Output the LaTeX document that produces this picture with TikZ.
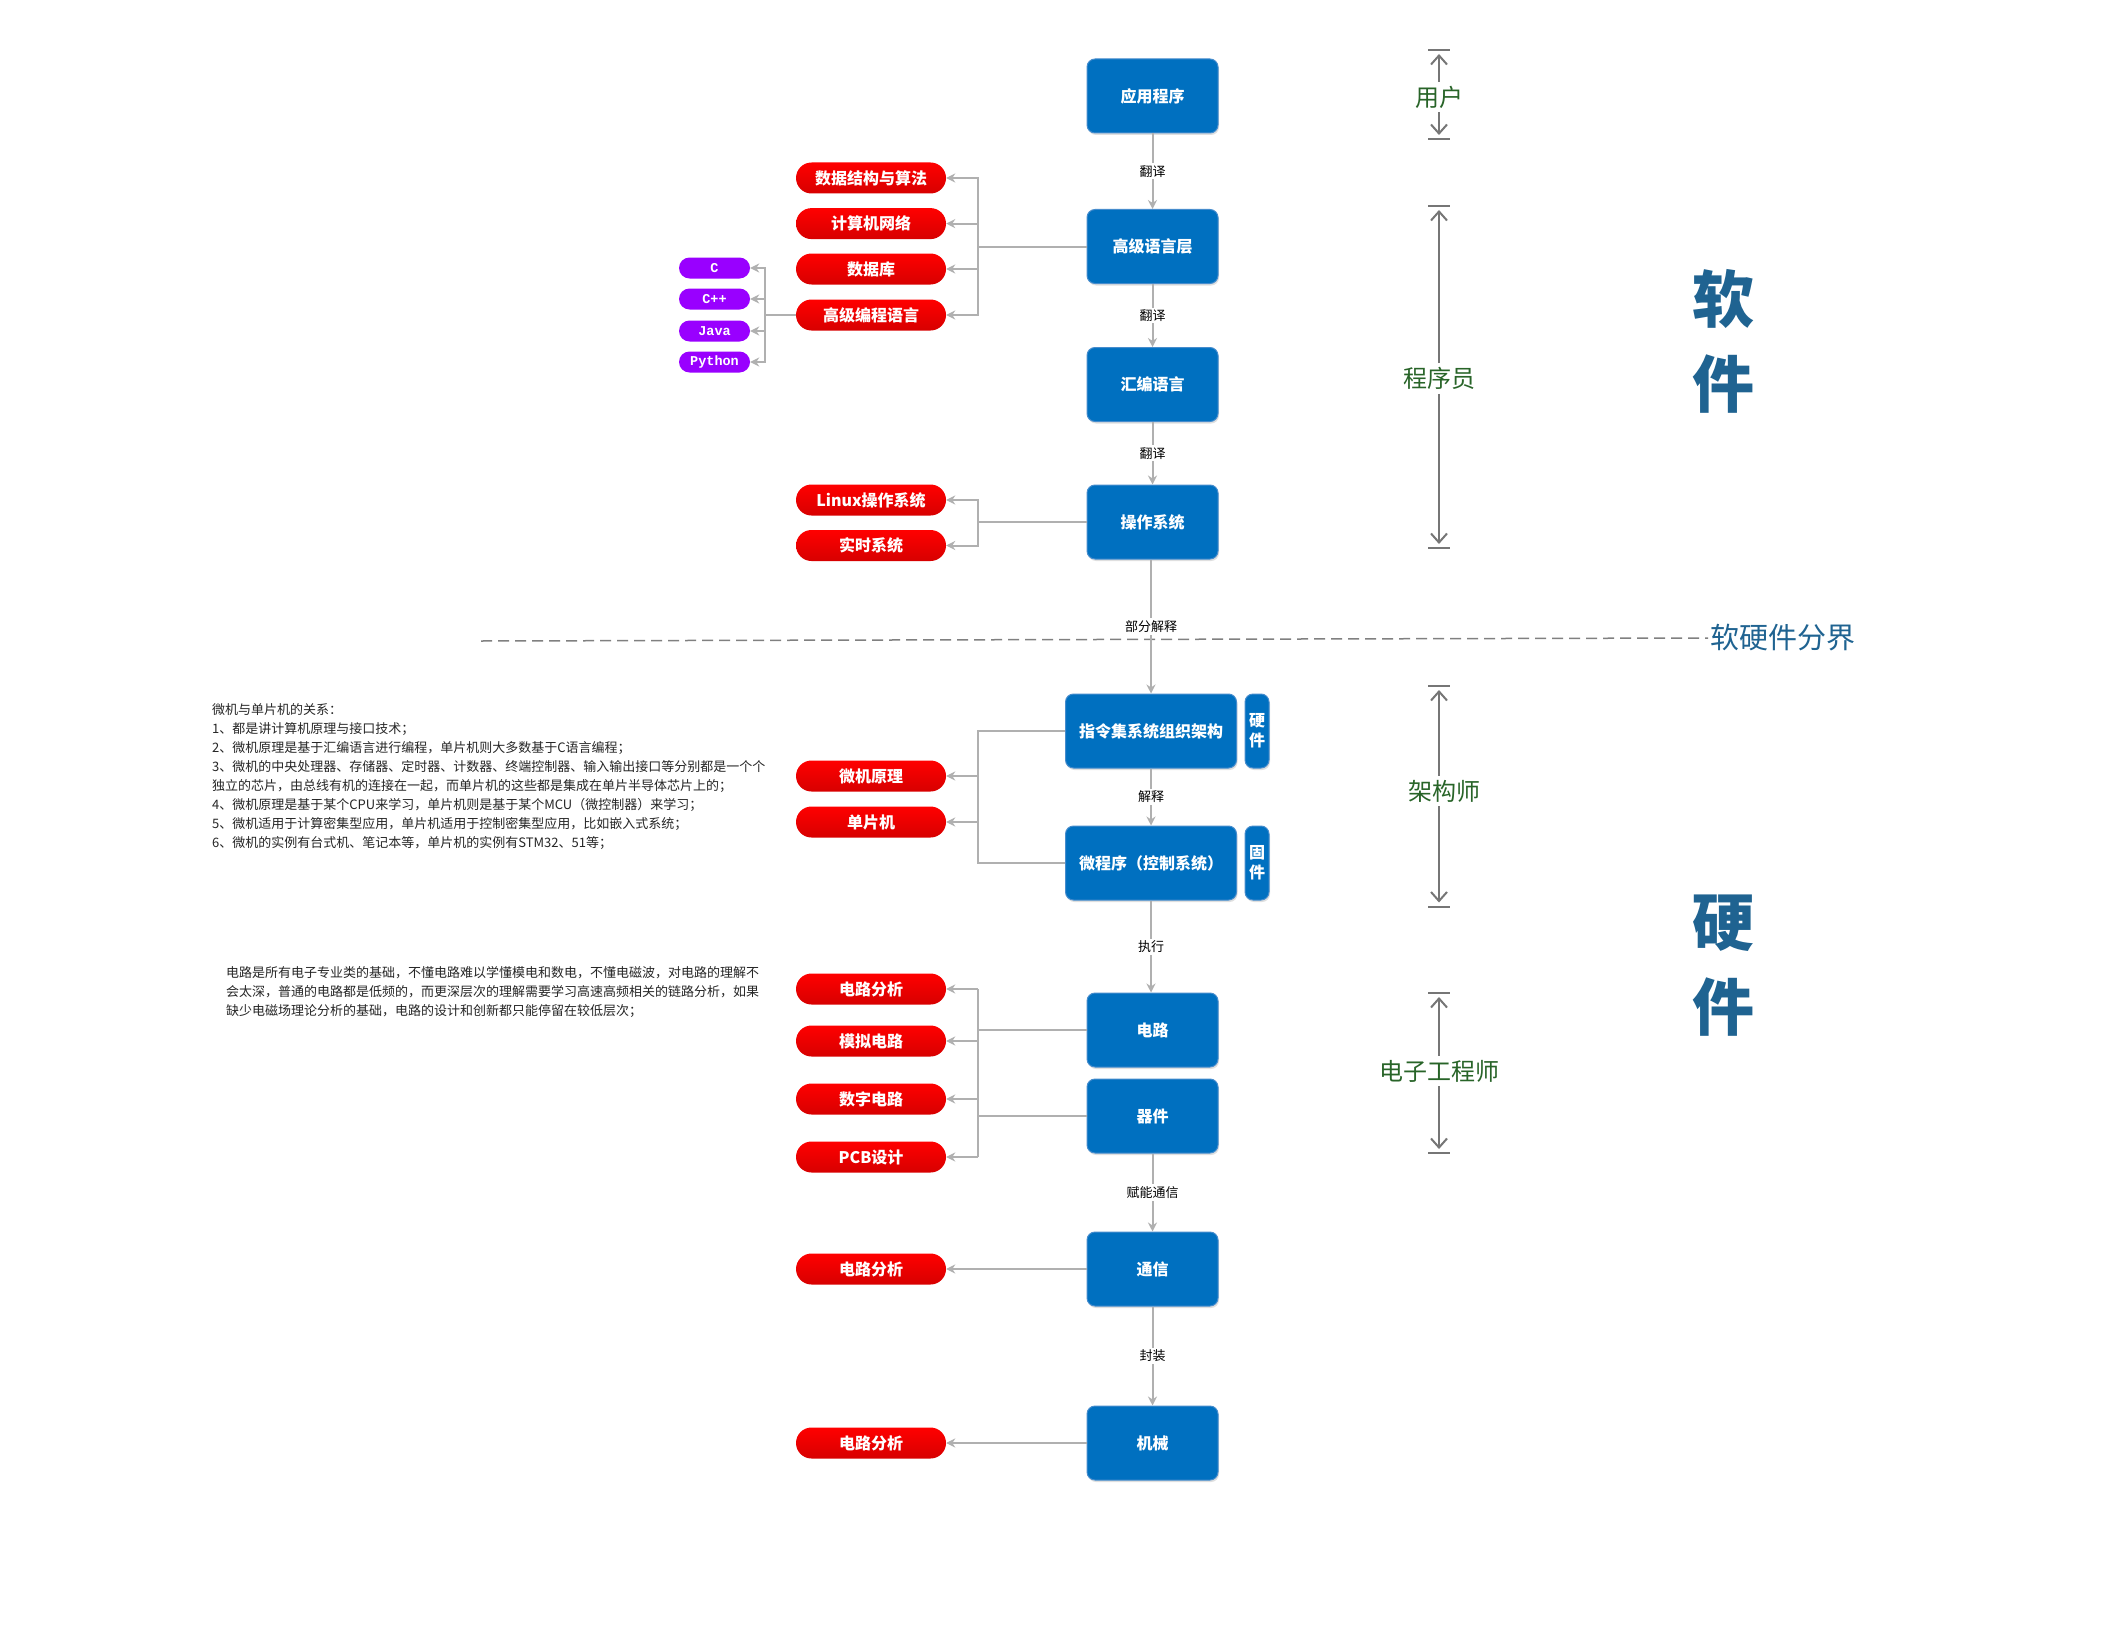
\documentclass[tikz,border=0pt]{standalone}
\usepackage{fontspec}
\setmainfont{Noto Sans CJK SC}
\newfontfamily\codefont{Liberation Mono}
\usetikzlibrary{arrows.meta,shadows}
\definecolor{boxblue}{RGB}{0,112,192}
\definecolor{boxedge}{RGB}{70,140,205}
\definecolor{pillred}{RGB}{255,0,0}
\definecolor{pilldark}{RGB}{215,0,0}
\definecolor{ppurple}{RGB}{153,0,255}
\definecolor{conngray}{RGB}{176,176,176}
\definecolor{brgray}{RGB}{118,118,118}
\definecolor{labgreen}{RGB}{40,100,40}
\definecolor{bigblue}{RGB}{31,99,145}
\begin{document}
\begin{tikzpicture}[x=1pt,y=-1pt,
  bbox/.style={rectangle, rounded corners=8pt, fill=boxblue, draw=boxedge, line width=1pt,
    minimum width=131pt, minimum height=74pt, inner sep=0pt, text=white,
    font=\fontsize{16}{19}\selectfont\bfseries,
    drop shadow={shadow xshift=1pt, shadow yshift=-2pt, opacity=0.25}},
  sidebox/.style={bbox, minimum width=24pt, align=center, font=\fontsize{16}{20}\selectfont\bfseries},
  rpill/.style={rectangle, rounded corners=15.5pt, minimum width=150pt, minimum height=31pt,
    inner sep=0pt, top color=pillred, middle color=pillred, bottom color=pilldark, text=white,
    font=\fontsize{16}{19}\selectfont\bfseries},
  ppill/.style={rectangle, rounded corners=10.5pt, minimum width=71pt, minimum height=21pt,
    inner sep=0pt, fill=ppurple, text=white, font=\fontsize{13.5}{15}\selectfont\codefont\bfseries},
  conn/.style={draw=conngray, line width=2pt},
  arr/.style={conn, -{Stealth[length=9pt,width=9pt]}},
  elab/.style={fill=white, inner sep=2pt, text=black, font=\fontsize{13}{15}\selectfont},
  role/.style={text=labgreen, inner sep=4pt, font=\fontsize{24}{28}\selectfont},
  rbar/.style={draw=brgray, line width=2pt},
  rarr/.style={draw=brgray, line width=2pt, -{Straight Barb[length=9pt,width=16pt]}},
  big/.style={text=bigblue, align=center, font=\fontsize{62}{85}\selectfont\bfseries},
  note/.style={anchor=north west, align=left, inner sep=0pt, text=black!85,
    font=\fontsize{13}{19}\selectfont}
]
\useasboundingbox[fill=white] (0,0) rectangle (2112,1632);

% boundary dashed line
\coordinate (dl) at (481,641);
\node[anchor=west, inner sep=2pt, text=bigblue, font=\fontsize{29}{33}\selectfont] (bd) at (1708,638) {软硬件分界};
\draw[draw=gray, line width=1.5pt, dash pattern=on 11pt off 6pt] (dl) -- (bd.west);

% main column
\node[bbox] (app) at (1152.5,96) {应用程序};
\node[bbox] (hll) at (1152.5,246.5) {高级语言层};
\node[bbox] (asm) at (1152.5,384.5) {汇编语言};
\node[bbox] (os) at (1152.5,522) {操作系统};
\node[bbox, minimum width=171pt] (isa) at (1151,731) {指令集系统组织架构};
\node[sidebox] (hw) at (1257,731) {硬\\件};
\node[bbox, minimum width=171pt] (mp) at (1151,863) {微程序（控制系统）};
\node[sidebox] (fw) at (1257,863) {固\\件};
\node[bbox] (circ) at (1152.5,1030) {电路};
\node[bbox] (dev) at (1152.5,1116) {器件};
\node[bbox] (comm) at (1152.5,1269) {通信};
\node[bbox] (mech) at (1152.5,1443) {机械};

\draw[arr] (app) -- node[elab]{翻译} (hll);
\draw[arr] (hll) -- node[elab]{翻译} (asm);
\draw[arr] (asm) -- node[elab]{翻译} (os);
\draw[arr] (os.south -| isa.north) -- node[elab]{部分解释} (isa.north);
\draw[arr] (isa) -- node[elab]{解释} (mp);
\draw[arr] (mp.south) -- node[elab]{执行} (mp.south |- circ.north);
\draw[arr] (dev.south) -- node[elab]{赋能通信} (comm.north);
\draw[arr] (comm) -- node[elab]{封装} (mech);

% red pills
\node[rpill] (dsa) at (871,178) {数据结构与算法};
\node[rpill] (net) at (871,223.6) {计算机网络};
\node[rpill] (db) at (871,269) {数据库};
\node[rpill] (hpl) at (871,315) {高级编程语言};
\node[rpill] (linux) at (871,500) {Linux操作系统};
\node[rpill] (rtos) at (871,545.5) {实时系统};
\node[rpill] (mcp) at (871,776) {微机原理};
\node[rpill] (mcu) at (871,822) {单片机};
\node[rpill] (ca1) at (871,989) {电路分析};
\node[rpill] (ana) at (871,1041) {模拟电路};
\node[rpill] (dig) at (871,1099) {数字电路};
\node[rpill] (pcb) at (871,1157) {PCB设计};
\node[rpill] (ca2) at (871,1269) {电路分析};
\node[rpill] (ca3) at (871,1443) {电路分析};

% purple pills
\node[ppill] (lc) at (714.5,268) {C};
\node[ppill] (lcpp) at (714.5,299) {C++};
\node[ppill] (ljava) at (714.5,331) {Java};
\node[ppill] (lpy) at (714.5,362) {Python};

% tree connectors
\coordinate (j1) at (978,246.5);
\draw[conn] (hll.west) -- (j1);
\draw[arr] (j1) |- (dsa.east);
\draw[arr] (j1) |- (net.east);
\draw[arr] (j1) |- (db.east);
\draw[arr] (j1) |- (hpl.east);

\coordinate (j2) at (765,315);
\draw[conn] (hpl.west) -- (j2);
\draw[arr] (j2) |- (lc.east);
\draw[arr] (j2) |- (lcpp.east);
\draw[arr] (j2) |- (ljava.east);
\draw[arr] (j2) |- (lpy.east);

\coordinate (j3) at (978,522);
\draw[conn] (os.west) -- (j3);
\draw[arr] (j3) |- (linux.east);
\draw[arr] (j3) |- (rtos.east);

\coordinate (j4) at (978,731);
\coordinate (j5) at (978,863);
\draw[conn] (isa.west) -- (j4) -- (j5) -- (mp.west);
\draw[arr] (j4 |- mcp.east) -- (mcp.east);
\draw[arr] (j4 |- mcu.east) -- (mcu.east);

\coordinate (j6) at (978,1030);
\coordinate (j7) at (978,1116);
\draw[conn] (circ.west) -- (j6);
\draw[conn] (dev.west) -- (j7);
\draw[conn] (j6 |- ca1.east) -- (j6 |- pcb.east);
\draw[arr] (j6 |- ca1.east) -- (ca1.east);
\draw[arr] (j6 |- ana.east) -- (ana.east);
\draw[arr] (j6 |- dig.east) -- (dig.east);
\draw[arr] (j6 |- pcb.east) -- (pcb.east);

\draw[arr] (comm.west) -- (ca2.east);
\draw[arr] (mech.west) -- (ca3.east);

% role brackets
\node[role] (user) at (1439,97) {用户};
\draw[rbar] (1428,50) -- (1450,50); \draw[rbar] (1428,139) -- (1450,139);
\draw[rarr] (user.north) -- (1439,54);
\draw[rarr] (user.south) -- (1439,135);

\node[role] (prog) at (1439,378.5) {程序员};
\draw[rbar] (1428,206) -- (1450,206); \draw[rbar] (1428,548) -- (1450,548);
\draw[rarr] (prog.north) -- (1439,210);
\draw[rarr] (prog.south) -- (1439,544);

\node[role] (arch) at (1444,791) {架构师};
\draw[rbar] (1428,686) -- (1450,686); \draw[rbar] (1428,906.5) -- (1450,906.5);
\draw[rarr] (arch.north -| 1439,0) -- (1439,690);
\draw[rarr] (arch.south -| 1439,0) -- (1439,902.5);

\node[role] (ee) at (1439,1071) {电子工程师};
\draw[rbar] (1428,993) -- (1450,993); \draw[rbar] (1428,1153) -- (1450,1153);
\draw[rarr] (ee.north) -- (1439,997);
\draw[rarr] (ee.south) -- (1439,1149);

% big labels
\node[big] (soft) at (1723,341.5) {软\\件};
\node[big] (hard) at (1723,965.5) {硬\\件};

% notes
\node[note] (n1) at (212,703) {微机与单片机的关系：\\
1、都是讲计算机原理与接口技术；\\
2、微机原理是基于汇编语言进行编程，单片机则大多数基于C语言编程；\\
3、微机的中央处理器、存储器、定时器、计数器、终端控制器、输入输出接口等分别都是一个个\\
独立的芯片，由总线有机的连接在一起，而单片机的这些都是集成在单片半导体芯片上的；\\
4、微机原理是基于某个CPU来学习，单片机则是基于某个MCU（微控制器）来学习；\\
5、微机适用于计算密集型应用，单片机适用于控制密集型应用，比如嵌入式系统；\\
6、微机的实例有台式机、笔记本等，单片机的实例有STM32、51等；};

\node[note] (n2) at (226,966) {电路是所有电子专业类的基础，不懂电路难以学懂模电和数电，不懂电磁波，对电路的理解不\\
会太深，普通的电路都是低频的，而更深层次的理解需要学习高速高频相关的链路分析，如果\\
缺少电磁场理论分析的基础，电路的设计和创新都只能停留在较低层次；};
\end{tikzpicture}
\end{document}
